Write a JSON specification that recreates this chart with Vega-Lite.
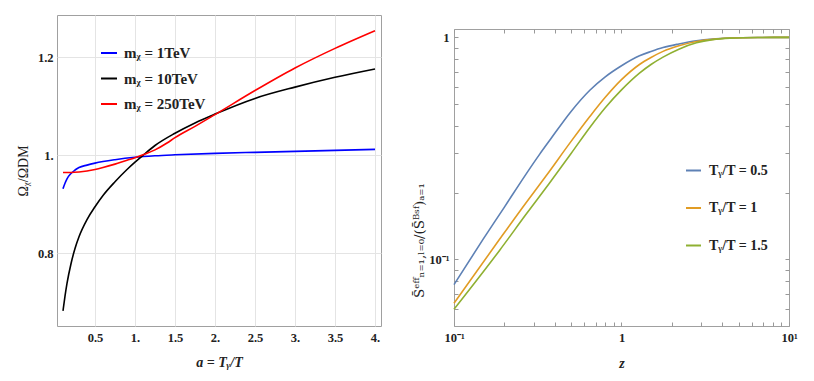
{
  "$schema": "https://vega.github.io/schema/vega-lite/v6.json",
  "padding": {"left": 15, "top": 14, "right": 0, "bottom": 0},
  "background": "white",
  "spacing": 30,
  "resolve": {"scale": {"color": "independent"}, "legend": {"color": "independent"}},
  "config": {
    "font": "Liberation Serif",
    "view": {"stroke": "#a0a0a0", "strokeWidth": 1},
    "axis": {
      "labelFont": "Liberation Serif",
      "labelFontWeight": "bold",
      "labelFontSize": 12.5,
      "labelColor": "#222222",
      "labelFlush": false,
      "titleFont": "Liberation Serif",
      "titleFontSize": 14,
      "titleColor": "#222222",
      "titleFontWeight": "normal",
      "domain": false,
      "tickColor": "#999999"
    },
    "legend": {
      "labelFont": "Liberation Serif",
      "labelFontWeight": "bold",
      "labelFontSize": 13.5,
      "labelColor": "#222222"
    }
  },
  "datasets": {
    "left": [
      {"a": 0.1, "omega": 0.932, "series": "mᵪ = 1TeV"},
      {"a": 0.125, "omega": 0.943, "series": "mᵪ = 1TeV"},
      {"a": 0.15, "omega": 0.952, "series": "mᵪ = 1TeV"},
      {"a": 0.2, "omega": 0.963, "series": "mᵪ = 1TeV"},
      {"a": 0.25, "omega": 0.970, "series": "mᵪ = 1TeV"},
      {"a": 0.3, "omega": 0.975, "series": "mᵪ = 1TeV"},
      {"a": 0.4, "omega": 0.980, "series": "mᵪ = 1TeV"},
      {"a": 0.5, "omega": 0.984, "series": "mᵪ = 1TeV"},
      {"a": 0.75, "omega": 0.991, "series": "mᵪ = 1TeV"},
      {"a": 1.0, "omega": 0.996, "series": "mᵪ = 1TeV"},
      {"a": 1.25, "omega": 0.999, "series": "mᵪ = 1TeV"},
      {"a": 1.5, "omega": 1.001, "series": "mᵪ = 1TeV"},
      {"a": 2.0, "omega": 1.004, "series": "mᵪ = 1TeV"},
      {"a": 2.5, "omega": 1.006, "series": "mᵪ = 1TeV"},
      {"a": 3.0, "omega": 1.008, "series": "mᵪ = 1TeV"},
      {"a": 3.5, "omega": 1.010, "series": "mᵪ = 1TeV"},
      {"a": 4.0, "omega": 1.012, "series": "mᵪ = 1TeV"},
      {"a": 0.1, "omega": 0.683, "series": "mᵪ = 10TeV"},
      {"a": 0.125, "omega": 0.713, "series": "mᵪ = 10TeV"},
      {"a": 0.15, "omega": 0.739, "series": "mᵪ = 10TeV"},
      {"a": 0.2, "omega": 0.779, "series": "mᵪ = 10TeV"},
      {"a": 0.25, "omega": 0.810, "series": "mᵪ = 10TeV"},
      {"a": 0.3, "omega": 0.834, "series": "mᵪ = 10TeV"},
      {"a": 0.4, "omega": 0.869, "series": "mᵪ = 10TeV"},
      {"a": 0.5, "omega": 0.895, "series": "mᵪ = 10TeV"},
      {"a": 0.6, "omega": 0.918, "series": "mᵪ = 10TeV"},
      {"a": 0.75, "omega": 0.946, "series": "mᵪ = 10TeV"},
      {"a": 0.9, "omega": 0.971, "series": "mᵪ = 10TeV"},
      {"a": 1.0, "omega": 0.986, "series": "mᵪ = 10TeV"},
      {"a": 1.1, "omega": 1.000, "series": "mᵪ = 10TeV"},
      {"a": 1.25, "omega": 1.020, "series": "mᵪ = 10TeV"},
      {"a": 1.5, "omega": 1.045, "series": "mᵪ = 10TeV"},
      {"a": 1.75, "omega": 1.066, "series": "mᵪ = 10TeV"},
      {"a": 2.0, "omega": 1.084, "series": "mᵪ = 10TeV"},
      {"a": 2.5, "omega": 1.116, "series": "mᵪ = 10TeV"},
      {"a": 3.0, "omega": 1.139, "series": "mᵪ = 10TeV"},
      {"a": 3.5, "omega": 1.159, "series": "mᵪ = 10TeV"},
      {"a": 4.0, "omega": 1.176, "series": "mᵪ = 10TeV"},
      {"a": 0.1, "omega": 0.965, "series": "mᵪ = 250TeV"},
      {"a": 0.2, "omega": 0.965, "series": "mᵪ = 250TeV"},
      {"a": 0.3, "omega": 0.966, "series": "mᵪ = 250TeV"},
      {"a": 0.4, "omega": 0.968, "series": "mᵪ = 250TeV"},
      {"a": 0.5, "omega": 0.971, "series": "mᵪ = 250TeV"},
      {"a": 0.6, "omega": 0.975, "series": "mᵪ = 250TeV"},
      {"a": 0.75, "omega": 0.982, "series": "mᵪ = 250TeV"},
      {"a": 0.9, "omega": 0.990, "series": "mᵪ = 250TeV"},
      {"a": 1.0, "omega": 0.995, "series": "mᵪ = 250TeV"},
      {"a": 1.1, "omega": 1.001, "series": "mᵪ = 250TeV"},
      {"a": 1.25, "omega": 1.011, "series": "mᵪ = 250TeV"},
      {"a": 1.4, "omega": 1.025, "series": "mᵪ = 250TeV"},
      {"a": 1.5, "omega": 1.036, "series": "mᵪ = 250TeV"},
      {"a": 1.75, "omega": 1.059, "series": "mᵪ = 250TeV"},
      {"a": 2.0, "omega": 1.083, "series": "mᵪ = 250TeV"},
      {"a": 2.5, "omega": 1.132, "series": "mᵪ = 250TeV"},
      {"a": 3.0, "omega": 1.178, "series": "mᵪ = 250TeV"},
      {"a": 3.5, "omega": 1.218, "series": "mᵪ = 250TeV"},
      {"a": 4.0, "omega": 1.254, "series": "mᵪ = 250TeV"}
    ],
    "right": [
      {"z": 0.1, "s": 0.0770, "series": "Tᵧ/T = 0.5"},
      {"z": 0.149, "s": 0.123, "series": "Tᵧ/T = 0.5"},
      {"z": 0.2, "s": 0.172, "series": "Tᵧ/T = 0.5"},
      {"z": 0.268, "s": 0.241, "series": "Tᵧ/T = 0.5"},
      {"z": 0.325, "s": 0.298, "series": "Tᵧ/T = 0.5"},
      {"z": 0.372, "s": 0.343, "series": "Tᵧ/T = 0.5"},
      {"z": 0.5, "s": 0.464, "series": "Tᵧ/T = 0.5"},
      {"z": 0.647, "s": 0.578, "series": "Tᵧ/T = 0.5"},
      {"z": 0.8, "s": 0.664, "series": "Tᵧ/T = 0.5"},
      {"z": 1.0, "s": 0.745, "series": "Tᵧ/T = 0.5"},
      {"z": 1.28, "s": 0.826, "series": "Tᵧ/T = 0.5"},
      {"z": 1.5, "s": 0.864, "series": "Tᵧ/T = 0.5"},
      {"z": 1.77, "s": 0.900, "series": "Tᵧ/T = 0.5"},
      {"z": 2.2, "s": 0.934, "series": "Tᵧ/T = 0.5"},
      {"z": 2.8, "s": 0.965, "series": "Tᵧ/T = 0.5"},
      {"z": 3.5, "s": 0.983, "series": "Tᵧ/T = 0.5"},
      {"z": 4.44, "s": 0.993, "series": "Tᵧ/T = 0.5"},
      {"z": 6.5, "s": 0.999, "series": "Tᵧ/T = 0.5"},
      {"z": 10, "s": 1.0, "series": "Tᵧ/T = 0.5"},
      {"z": 0.1, "s": 0.0634, "series": "Tᵧ/T = 1"},
      {"z": 0.1875, "s": 0.1235, "series": "Tᵧ/T = 1"},
      {"z": 0.27, "s": 0.1805, "series": "Tᵧ/T = 1"},
      {"z": 0.355, "s": 0.238, "series": "Tᵧ/T = 1"},
      {"z": 0.5, "s": 0.340, "series": "Tᵧ/T = 1"},
      {"z": 0.647, "s": 0.440, "series": "Tᵧ/T = 1"},
      {"z": 0.8, "s": 0.537, "series": "Tᵧ/T = 1"},
      {"z": 1.0, "s": 0.645, "series": "Tᵧ/T = 1"},
      {"z": 1.28, "s": 0.755, "series": "Tᵧ/T = 1"},
      {"z": 1.5, "s": 0.812, "series": "Tᵧ/T = 1"},
      {"z": 1.77, "s": 0.865, "series": "Tᵧ/T = 1"},
      {"z": 2.2, "s": 0.916, "series": "Tᵧ/T = 1"},
      {"z": 2.8, "s": 0.958, "series": "Tᵧ/T = 1"},
      {"z": 3.5, "s": 0.980, "series": "Tᵧ/T = 1"},
      {"z": 4.44, "s": 0.993, "series": "Tᵧ/T = 1"},
      {"z": 6.5, "s": 0.999, "series": "Tᵧ/T = 1"},
      {"z": 10, "s": 1.0, "series": "Tᵧ/T = 1"},
      {"z": 0.1, "s": 0.0596, "series": "Tᵧ/T = 1.5"},
      {"z": 0.1875, "s": 0.110, "series": "Tᵧ/T = 1.5"},
      {"z": 0.27, "s": 0.160, "series": "Tᵧ/T = 1.5"},
      {"z": 0.372, "s": 0.221, "series": "Tᵧ/T = 1.5"},
      {"z": 0.5, "s": 0.300, "series": "Tᵧ/T = 1.5"},
      {"z": 0.647, "s": 0.393, "series": "Tᵧ/T = 1.5"},
      {"z": 0.8, "s": 0.482, "series": "Tᵧ/T = 1.5"},
      {"z": 1.0, "s": 0.580, "series": "Tᵧ/T = 1.5"},
      {"z": 1.28, "s": 0.690, "series": "Tᵧ/T = 1.5"},
      {"z": 1.5, "s": 0.755, "series": "Tᵧ/T = 1.5"},
      {"z": 1.77, "s": 0.815, "series": "Tᵧ/T = 1.5"},
      {"z": 2.2, "s": 0.885, "series": "Tᵧ/T = 1.5"},
      {"z": 2.8, "s": 0.945, "series": "Tᵧ/T = 1.5"},
      {"z": 3.5, "s": 0.977, "series": "Tᵧ/T = 1.5"},
      {"z": 4.44, "s": 0.992, "series": "Tᵧ/T = 1.5"},
      {"z": 6.5, "s": 0.999, "series": "Tᵧ/T = 1.5"},
      {"z": 10, "s": 1.0, "series": "Tᵧ/T = 1.5"}
    ]
  },
  "hconcat": [
    {
      "width": 324,
      "height": 311,
      "data": {"name": "left"},
      "mark": {"type": "line", "strokeWidth": 1.6, "interpolate": "monotone"},
      "encoding": {
        "x": {
          "field": "a",
          "type": "quantitative",
          "scale": {"domain": [0.025, 4.075], "nice": false, "zero": false},
          "axis": {
            "values": [0.5, 1, 1.5, 2, 2.5, 3, 3.5, 4],
            "labelExpr": "datum.value % 1 === 0 ? format(datum.value, 'd') + '.' : format(datum.value, '.1f')",
            "title": "a = Tᵧ/T",
            "titleFontStyle": "italic",
            "titleFontWeight": "bold",
            "grid": true,
            "gridColor": "#e4e4e4",
            "ticks": false,
            "labelPadding": 5,
            "titlePadding": 12
          }
        },
        "y": {
          "field": "omega",
          "type": "quantitative",
          "scale": {"domain": [0.652, 1.286], "nice": false, "zero": false},
          "axis": {
            "values": [0.8, 1, 1.2],
            "labelExpr": "datum.value % 1 === 0 ? format(datum.value, 'd') + '.' : format(datum.value, '.1f')",
            "title": "Ωᵪ/ΩDM",
            "grid": true,
            "gridColor": "#e4e4e4",
            "ticks": false,
            "labelPadding": 4,
            "titlePadding": 7
          }
        },
        "color": {
          "field": "series",
          "type": "nominal",
          "sort": ["mᵪ = 1TeV", "mᵪ = 10TeV", "mᵪ = 250TeV"],
          "scale": {"domain": ["mᵪ = 1TeV", "mᵪ = 10TeV", "mᵪ = 250TeV"], "range": ["#0000ff", "#000000", "#ff0000"]},
          "legend": {
            "orient": "none",
            "legendX": 43,
            "legendY": 29,
            "title": null,
            "symbolType": "stroke",
            "symbolSize": 256,
            "symbolStrokeWidth": 2,
            "rowPadding": 8.5,
            "labelOffset": 6,
            "labelFontSize": 15
          }
        }
      }
    },
    {
      "spacing": 0,
      "vconcat": [
        {
          "width": 335,
          "height": 13,
          "data": {"values": [{"v": 0}]},
          "mark": {"type": "text", "text": ""},
          "encoding": {},
          "view": {"stroke": null}
        },
        {
          "width": 335,
          "height": 297,
          "data": {"name": "right"},
          "view": {"stroke": "#a0a0a0", "strokeWidth": 1},
          "resolve": {"axis": {"x": "independent", "y": "independent"}},
          "layer": [
            {
              "mark": {"type": "line", "strokeWidth": 1.6, "interpolate": "monotone"},
              "encoding": {
                "x": {
                  "field": "z",
                  "type": "quantitative",
                  "scale": {"type": "log", "domain": [0.1, 10], "nice": false},
                  "axis": {
                    "orient": "bottom",
                    "values": [0.1, 0.2, 0.3, 0.4, 0.5, 0.6, 0.7, 0.8, 0.9, 1, 2, 3, 4, 5, 6, 7, 8, 9, 10],
                    "labelExpr": "datum.value == 0.1 ? '10⁻¹' : datum.value == 1 ? '1' : datum.value == 10 ? '10¹' : ''",
                    "title": "z",
                    "titleFontStyle": "italic",
                    "titleFontWeight": "bold",
                    "grid": false,
                    "tickSize": -4,
                    "labelPadding": 9,
                    "titlePadding": 13
                  }
                },
                "y": {
                  "field": "s",
                  "type": "quantitative",
                  "scale": {"type": "log", "domain": [0.0501, 1.091], "nice": false},
                  "axis": {
                    "orient": "left",
                    "values": [0.05, 0.06, 0.07, 0.08, 0.09, 0.1, 0.2, 0.3, 0.4, 0.5, 0.6, 0.7, 0.8, 0.9, 1],
                    "labelExpr": "datum.value == 0.1 ? '10⁻¹' : datum.value == 1 ? '1' : ''",
                    "title": "S̄ᵉᶠᶠₙ₌₁,ₗ₌₀/(S̄ᴮˢᶠ)ₐ₌₁",
                    "titleFont": "DejaVu Serif",
                    "titleFontSize": 13.5,
                    "titleY": 211,
                    "grid": false,
                    "tickSize": -4,
                    "labelPadding": 9,
                    "titlePadding": 2
                  }
                },
                "color": {
                  "field": "series",
                  "type": "nominal",
                  "sort": ["Tᵧ/T = 0.5", "Tᵧ/T = 1", "Tᵧ/T = 1.5"],
                  "scale": {"domain": ["Tᵧ/T = 0.5", "Tᵧ/T = 1", "Tᵧ/T = 1.5"], "range": ["#5e81b5", "#e19c24", "#8fb032"]},
                  "legend": {
                    "orient": "none",
                    "legendX": 231,
                    "legendY": 147,
                    "title": null,
                    "symbolType": "stroke",
                    "symbolSize": 225,
                    "symbolStrokeWidth": 2,
                    "rowPadding": 21.5,
                    "labelOffset": 7,
                    "labelFontSize": 14
                  }
                }
              }
            },
            {
              "mark": {"type": "line", "opacity": 0, "interpolate": "monotone"},
              "encoding": {
                "x": {
                  "field": "z",
                  "type": "quantitative",
                  "scale": {"type": "log", "domain": [0.1, 10], "nice": false},
                  "axis": {
                    "orient": "top",
                    "values": [0.1, 0.2, 0.3, 0.4, 0.5, 0.6, 0.7, 0.8, 0.9, 1, 2, 3, 4, 5, 6, 7, 8, 9, 10],
                    "labels": false,
                    "title": null,
                    "grid": false,
                    "tickSize": -4
                  }
                },
                "y": {
                  "field": "s",
                  "type": "quantitative",
                  "scale": {"type": "log", "domain": [0.0501, 1.091], "nice": false},
                  "axis": {
                    "orient": "right",
                    "values": [0.05, 0.06, 0.07, 0.08, 0.09, 0.1, 0.2, 0.3, 0.4, 0.5, 0.6, 0.7, 0.8, 0.9, 1],
                    "labels": false,
                    "title": null,
                    "grid": false,
                    "tickSize": -4
                  }
                }
              }
            }
          ]
        }
      ]
    }
  ]
}
